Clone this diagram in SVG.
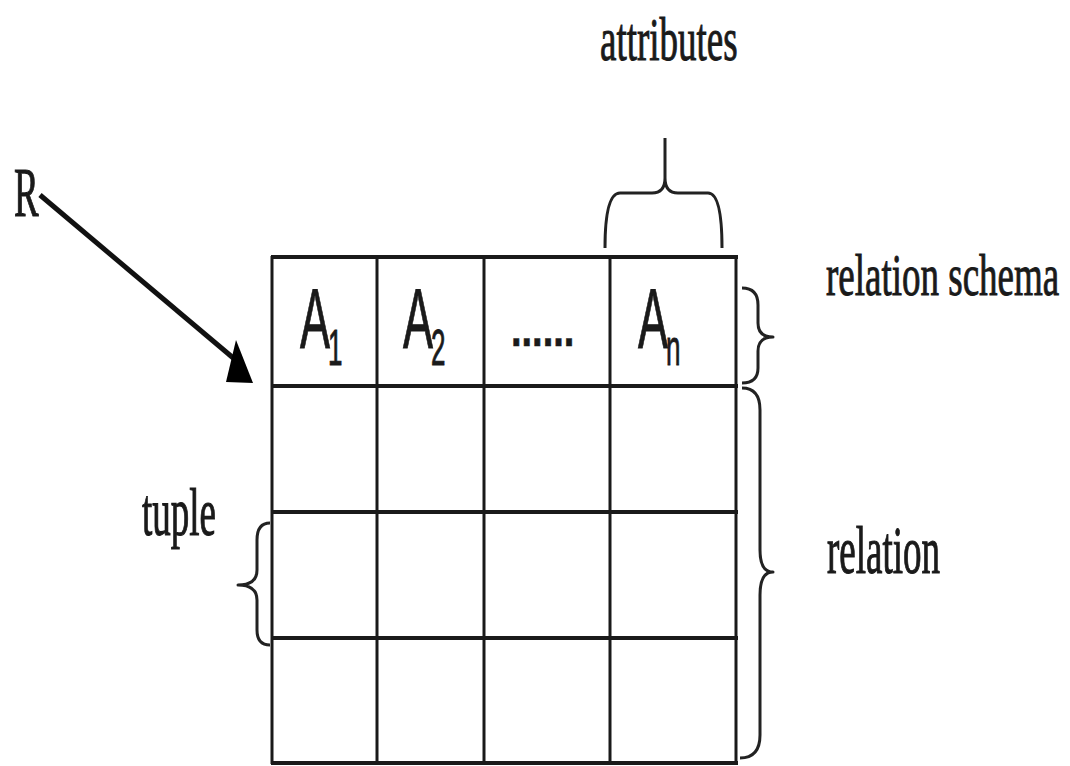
<svg xmlns="http://www.w3.org/2000/svg" width="1070" height="766" viewBox="0 0 1070 766">
<style>
.serif{font-family:"Liberation Serif","Times New Roman",serif;font-size:37px;fill:#1a1a1a;stroke:#1a1a1a;stroke-width:0.6}
.sans{font-family:"Liberation Sans",Arial,sans-serif;fill:#1a1a1a;stroke:#1a1a1a;stroke-width:0.5}
.hl{stroke:#1a1a1a;stroke-width:4;fill:none}
.vl{stroke:#1a1a1a;stroke-width:3;fill:none}
.brace{stroke:#222;stroke-width:3;fill:none;stroke-linejoin:round}
</style>
<rect width="1070" height="766" fill="#ffffff"/>
<g id="table">
<line class="hl" x1="271" y1="257" x2="738" y2="257"/>
<line class="hl" x1="271" y1="386" x2="738" y2="386"/>
<line class="hl" x1="271" y1="512" x2="738" y2="512"/>
<line class="hl" x1="271" y1="638" x2="738" y2="638"/>
<line class="hl" x1="271" y1="763" x2="738" y2="763"/>
<line class="vl" x1="272" y1="256" x2="272" y2="764"/>
<line class="vl" x1="377" y1="256" x2="377" y2="764"/>
<line class="vl" x1="484" y1="256" x2="484" y2="764"/>
<line class="vl" x1="610" y1="256" x2="610" y2="764"/>
<line class="vl" x1="736" y1="256" x2="736" y2="764"/>
</g>
<g id="header-cells">
<text class="sans" font-size="45" transform="translate(300,348) scale(1,1.9)">A</text>
<text class="sans" font-size="26" transform="translate(328,365) scale(1,1.9)">1</text>
<text class="sans" font-size="45" transform="translate(403,348) scale(1,1.9)">A</text>
<text class="sans" font-size="26" transform="translate(431,365) scale(1,1.9)">2</text>
<text class="sans" font-size="38" font-weight="bold" transform="translate(511,346) scale(1,1.3)">......</text>
<text class="sans" font-size="45" transform="translate(638,348) scale(1,1.9)">A</text>
<text class="sans" font-size="26" transform="translate(666,365) scale(1,1.9)">n</text>
</g>
<g id="label-R">
<text class="serif" font-size="38" transform="translate(14,216) scale(1,1.9)">R</text>
</g>
<g id="label-attributes">
<text class="serif" transform="translate(600,60) scale(1,1.68)">attributes</text>
</g>
<g id="label-relation-schema">
<text class="serif" transform="translate(826,295) scale(1,1.6)">relation schema</text>
</g>
<g id="label-tuple">
<text class="serif" font-size="35.5" transform="translate(142,535) scale(1,1.85)">tuple</text>
</g>
<g id="label-relation">
<text class="serif" font-size="37.6" transform="translate(827,573) scale(1,1.85)">relation</text>
</g>
<g id="connectors">
<line x1="40" y1="195" x2="238" y2="362" stroke="#111" stroke-width="5"/>
<polygon points="236,340 253,383 226,382" fill="#000"/>
<path class="brace" d="M605,248 Q605,193 620,193 L652,193 Q665,193 665,178 L665,138 M665,178 Q665,193 678,193 L708,193 Q722,193 722,248"/>
<path class="brace" d="M742,288 Q758,288 758,305 L758,323 Q758,337 773,337 Q758,337 758,351 L758,368 Q758,383 742,383"/>
<path class="brace" d="M742,388 Q760,388 760,410 L760,550 Q760,572 773,572 Q760,572 760,595 L760,735 Q760,758 740,758"/>
<path class="brace" d="M270,523 Q257,523 257,540 L257,570 Q257,585 238,585 Q257,585 257,600 L257,630 Q257,645 270,645"/>
</g>
</svg>
